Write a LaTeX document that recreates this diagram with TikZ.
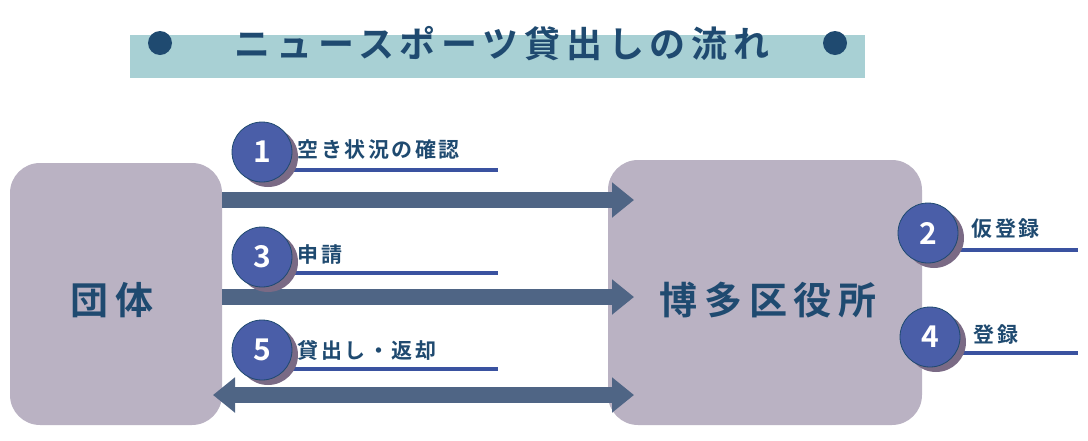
\documentclass[tikz,border=0pt]{standalone}
\usepackage{fontspec}
\newfontfamily\cjk{Noto Sans CJK JP Bold}
\newfontfamily\cjkls[LetterSpace=12]{Noto Sans CJK JP Bold}
\newfontfamily\cjkt[LetterSpace=16]{Noto Sans CJK JP Bold}
\newfontfamily\cjkb[LetterSpace=18]{Noto Sans CJK JP Bold}
\usetikzlibrary{arrows.meta}
\definecolor{navy}{HTML}{1F4A70}
\definecolor{boxc}{HTML}{BAB2C3}
\definecolor{arrc}{HTML}{4F6585}
\definecolor{circ}{HTML}{4A5EA8}
\definecolor{shad}{HTML}{7A6A85}
\definecolor{linec}{HTML}{3A52A0}
\definecolor{band}{HTML}{A8D0D4}
\begin{document}
\begin{tikzpicture}[x=1pt,y=-1pt,
  bigbox/.style={fill=boxc,rounded corners=30pt},
  num/.style={circle,fill=circ,draw=navy,line width=0.8pt,minimum size=60pt,inner sep=0,text=white,font=\cjk\fontsize{30}{30}\selectfont},
  shd/.style={circle,fill=shad,minimum size=60pt,inner sep=0},
  lab/.style={anchor=west,text=navy,font=\cjkls\fontsize{21}{21}\selectfont},
  uline/.style={draw=linec,line width=4pt},
  fat/.style={draw=arrc,line width=16pt,-{Triangle[length=22pt,width=34pt]}},
  fatd/.style={draw=arrc,line width=16pt,{Triangle[length=22pt,width=34pt]}-{Triangle[length=22pt,width=34pt]}}]
\useasboundingbox (0,0) rectangle (1088,440);
\fill[band] (130,35) rectangle (865,78);
\fill[navy] (160,43) circle (12);
\fill[navy] (835,43) circle (12);
\node[text=navy,font=\cjkt\fontsize{36}{36}\selectfont] (title) at (502,44) {ニュースポーツ貸出しの流れ};
\node[bigbox,minimum width=212pt,minimum height=262pt] (dan) at (116,294) {};
\node[bigbox,minimum width=314pt,minimum height=265pt] (ku) at (765,292.5) {};
\node[text=navy,font=\cjkb\fontsize{38}{38}\selectfont] at (112,300) {団体};
\node[text=navy,font=\cjkb\fontsize{38}{38}\selectfont] at (768,300) {博多区役所};
\coordinate (a1s) at (222,200); \coordinate (a1e) at (634,200);
\coordinate (a3s) at (222,297); \coordinate (a3e) at (634,297);
\coordinate (a5s) at (213,395); \coordinate (a5e) at (634,395);
\draw[fat] (a1s) -- (a1e);
\draw[fat] (a3s) -- (a3e);
\draw[fatd] (a5s) -- (a5e);
\foreach \n/\x/\y/\t/\lx/\le/\ly in {1/262/152/空き状況の確認/290/498/170, 3/262/257/申請/290/498/273, 5/262/350/貸出し・返却/290/498/369, 2/928/233/仮登録/960/1078/250, 4/930/337/登録/960/1078/353}{
  \draw[uline] (\lx,\ly) -- (\le,\ly);
  \node[shd] at (\x+6,\y+5) {};
  \node[num] (c\n) at (\x,\y) {\n};
}
\node[lab] at (294,150) {空き状況の確認};
\node[lab] at (294,255) {申請};
\node[lab] at (294,350) {貸出し・返却};
\node[lab] at (968,229) {仮登録};
\node[lab] at (970,335) {登録};
\end{tikzpicture}
\end{document}
